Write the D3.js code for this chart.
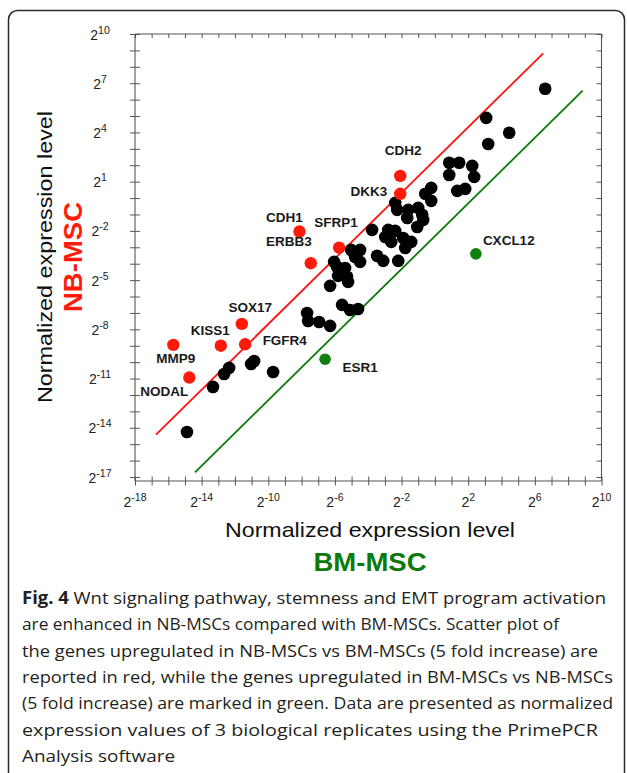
<!DOCTYPE html>
<html>
<head>
<meta charset="utf-8">
<script src="https://cdn.jsdelivr.net/npm/d3@7"></script>
<style>
body{margin:0;background:#fff;}
svg{display:block;}
</style>
</head>
<body>
<svg id="fig" width="627" height="773"></svg>
<script>
// values are log2 of the normalized expression level
// x = BM-MSC, y = NB-MSC
var otherX = [6.62, 3.08, 4.46, 3.2, 0.86, 1.46, 2.24, 0.86, 2.36, 1.34,
	1.82, -0.22, -0.58, -0.22, -2.38, -2.26, -1.6, -1.0, -0.76, -1.66,
	-0.7, -1.06, -3.77, -2.8, -2.38, -2.98, -1.9, -1.42, -2.62, -1.78,
	-5.03, -4.49, -4.79, -3.47, -2.2, -3.1, -6.05, -5.87, -5.39, -5.81,
	-5.27, -5.21, -6.29, -4.49, -5.57, -5.09, -4.61, -7.67, -7.61, -6.95,
	-6.29, -10.85, -11.03, -12.35, -12.65, -9.71, -13.32, -14.88];
var otherY = [6.66, 4.89, 3.98, 3.3, 2.15, 2.15, 1.96, 1.41, 1.29, 0.44,
	0.56, 0.62, 0.26, -0.17, -0.29, -0.72, -0.72, -0.6, -1.02, -1.21,
	-1.33, -1.76, -1.94, -1.94, -2.0, -2.37, -2.43, -2.67, -2.67, -3.04,
	-3.16, -3.16, -3.59, -3.52, -3.83, -3.83, -3.89, -4.2, -4.26, -4.74,
	-4.8, -5.11, -5.35, -3.89, -6.51, -6.82, -6.76, -7.0, -7.49, -7.55,
	-7.79, -9.93, -10.11, -10.35, -10.72, -10.6, -11.51, -14.26];

var upGenes = ["CDH2", "DKK3", "CDH1", "SFRP1", "ERBB3", "SOX17", "KISS1", "FGFR4", "MMP9", "NODAL"];
var upX = [-2.08, -2.08, -8.13, -5.75, -7.45, -11.59, -12.85, -11.39, -15.7, -14.74];
var upY = [1.35, 0.26, -2.04, -3.02, -3.97, -7.67, -9.0, -8.91, -8.95, -10.94];

var downGenes = ["CXCL12", "ESR1"];
var downX = [2.46, -6.59];
var downY = [-3.4, -9.82];

var foldChange = 5;
var upLineX = [-16.74, 6.5];
var downLineX = [-14.4, 8.87];

var xTickExp = d3.range(-18, 11);
var yTickExp = d3.range(-17, 11);
var xLabelExp = [-18, -14, -10, -6, -2, 2, 6, 10];
var yLabelExp = [10, 7, 4, 1, -2, -5, -8, -11, -14, -17];

var captionLines = [
	["Fig. 4", " Wnt signaling pathway, stemness and EMT program activation"],
	["", "are enhanced in NB-MSCs compared with BM-MSCs. Scatter plot of"],
	["", "the genes upregulated in NB-MSCs vs BM-MSCs (5 fold increase) are"],
	["", "reported in red, while the genes upregulated in BM-MSCs vs NB-MSCs"],
	["", "(5 fold increase) are marked in green. Data are presented as normalized"],
	["", "expression values of 3 biological replicates using the PrimePCR"],
	["", "Analysis software"]
];
// right end of each caption line (layout)
var captionEnds = [606, 559, 598, 613, 613, 598, 175];

// label placement relative to the dot: dx, dy, anchor
var labelPos = {
	CDH2: [3, -21, "middle"], DKK3: [-13, 2, "end"], CDH1: [-15, -10, "middle"],
	SFRP1: [-3, -21, "middle"], ERBB3: [-22, -17.5, "middle"], SOX17: [8.5, -11.5, "middle"],
	KISS1: [-10.5, -10.5, "middle"], FGFR4: [17.5, 1, "start"], MMP9: [2.5, 18.5, "middle"],
	NODAL: [-25, 18, "middle"], CXCL12: [7, -9, "start"], ESR1: [17.5, 13, "start"]
};

var svg = d3.select("#fig");
var p2 = function(e){ return Math.pow(2, e); };

var x = d3.scaleLog().base(2).domain([p2(-18), p2(10)]).range([135, 601.5]);
var y = d3.scaleLog().base(2).domain([p2(-17), p2(10)]).range([477, 34]);
var xAxisY = 481;

// frame
svg.append("rect")
	.attr("x", 8.5).attr("y", 10.5)
	.attr("width", 616).attr("height", 820)
	.attr("rx", 9).attr("ry", 9)
	.attr("fill", "none").attr("stroke", "#2a2a2a").attr("stroke-width", 1.5);

var axisColor = "#555";

// bottom axis
var gx = svg.append("g").attr("transform", "translate(0," + xAxisY + ")")
	.call(d3.axisBottom(x).tickValues(xTickExp.map(p2)).tickSize(4).tickFormat(""));
gx.select(".domain").attr("d", "M135,0H601.5");
gx.selectAll(".tick line").attr("y1", -4.5).attr("y2", 4.5);

// top axis
var gt = svg.append("g").attr("transform", "translate(0," + y(p2(10)) + ")")
	.call(d3.axisTop(x).tickValues(xTickExp.map(p2)).tickSize(-4).tickFormat(""));
gt.select(".domain").attr("d", "M135,0H601.5");

// left axis
var gy = svg.append("g").attr("transform", "translate(" + x(p2(-18)) + ",0)")
	.call(d3.axisLeft(y).tickValues(yTickExp.map(p2)).tickSize(5).tickFormat(""));
gy.select(".domain").attr("d", "M0,34V" + xAxisY);
gy.selectAll(".tick line").attr("x1", -5).attr("x2", 5);

// right axis
var gr = svg.append("g").attr("transform", "translate(" + x(p2(10)) + ",0)")
	.call(d3.axisRight(y).tickValues(yTickExp.map(p2)).tickSize(-5).tickFormat(""));
gr.select(".domain").attr("d", "M0,34V" + xAxisY);

svg.selectAll(".domain").attr("stroke", axisColor).attr("stroke-width", 1.1);
svg.selectAll(".tick line").attr("stroke", axisColor).attr("stroke-width", 1);

// tick labels 2^n
function powLabel(sel, e){
	sel.append("tspan").text("2");
	sel.append("tspan").attr("font-size", 10.5).attr("dy", -6).text(e);
}
svg.append("g").selectAll("text").data(xLabelExp).join("text")
	.attr("x", function(d){ return x(p2(d)); })
	.attr("y", 507)
	.attr("text-anchor", "middle")
	.attr("font-family", "Liberation Sans, Arial, sans-serif")
	.attr("font-size", 14).attr("fill", "#222")
	.each(function(d){ powLabel(d3.select(this), d); });

svg.append("g").selectAll("text").data(yLabelExp).join("text")
	.attr("x", 100)
	.attr("y", function(d){ return y(p2(d)) + 5.5; })
	.attr("text-anchor", "middle")
	.attr("font-family", "Liberation Sans, Arial, sans-serif")
	.attr("font-size", 14).attr("fill", "#222")
	.each(function(d){ powLabel(d3.select(this), d); });

// fold change lines
var fc = Math.log2(foldChange);
svg.append("line")
	.attr("x1", x(p2(upLineX[0]))).attr("y1", y(p2(upLineX[0] + fc)))
	.attr("x2", x(p2(upLineX[1]))).attr("y2", y(p2(upLineX[1] + fc)))
	.attr("stroke", "#ff1010").attr("stroke-width", 1.8);
svg.append("line")
	.attr("x1", x(p2(downLineX[0]))).attr("y1", y(p2(downLineX[0] - fc)))
	.attr("x2", x(p2(downLineX[1]))).attr("y2", y(p2(downLineX[1] - fc)))
	.attr("stroke", "#0a7a0a").attr("stroke-width", 1.8);

// dots
svg.append("g").selectAll("circle").data(otherX).join("circle")
	.attr("cx", function(d){ return x(p2(d)); })
	.attr("cy", function(d, i){ return y(p2(otherY[i])); })
	.attr("r", 6.3).attr("fill", "#000");

svg.append("g").selectAll("circle").data(upGenes).join("circle")
	.attr("cx", function(d, i){ return x(p2(upX[i])); })
	.attr("cy", function(d, i){ return y(p2(upY[i])); })
	.attr("r", 6.2).attr("fill", "#ff1a0a");

svg.append("g").selectAll("circle").data(downGenes).join("circle")
	.attr("cx", function(d, i){ return x(p2(downX[i])); })
	.attr("cy", function(d, i){ return y(p2(downY[i])); })
	.attr("r", 5.8).attr("fill", "#118011");

// gene labels
var labelled = upGenes.map(function(g, i){ return {g: g, x: upX[i], y: upY[i]}; })
	.concat(downGenes.map(function(g, i){ return {g: g, x: downX[i], y: downY[i]}; }));
svg.append("g").selectAll("text").data(labelled).join("text")
	.attr("x", function(d){ return x(p2(d.x)) + labelPos[d.g][0]; })
	.attr("y", function(d){ return y(p2(d.y)) + labelPos[d.g][1]; })
	.attr("text-anchor", function(d){ return labelPos[d.g][2]; })
	.attr("font-family", "Liberation Sans, Arial, sans-serif")
	.attr("font-weight", "bold").attr("font-size", 13.5).attr("fill", "#1a1a1a")
	.text(function(d){ return d.g; });

// axis titles
svg.append("text")
	.attr("x", 370).attr("y", 537)
	.attr("text-anchor", "middle")
	.attr("font-family", "Liberation Sans, Arial, sans-serif")
	.attr("font-size", 21).attr("fill", "#111")
	.attr("textLength", 290).attr("lengthAdjust", "spacingAndGlyphs")
	.text("Normalized expression level");
svg.append("text")
	.attr("x", 370).attr("y", 571)
	.attr("text-anchor", "middle")
	.attr("font-family", "Liberation Sans, Arial, sans-serif")
	.attr("font-size", 26).attr("font-weight", "bold").attr("fill", "#0b7a0b")
	.attr("textLength", 113).attr("lengthAdjust", "spacingAndGlyphs")
	.text("BM-MSC");

svg.append("text")
	.attr("transform", "translate(51.5,257) rotate(-90)")
	.attr("text-anchor", "middle")
	.attr("font-family", "Liberation Sans, Arial, sans-serif")
	.attr("font-size", 21).attr("fill", "#111")
	.attr("textLength", 292).attr("lengthAdjust", "spacingAndGlyphs")
	.text("Normalized expression level");
svg.append("text")
	.attr("transform", "translate(82,257) rotate(-90)")
	.attr("text-anchor", "middle")
	.attr("font-family", "Liberation Sans, Arial, sans-serif")
	.attr("font-size", 26).attr("font-weight", "bold").attr("fill", "#ff1a0a")
	.attr("textLength", 110).attr("lengthAdjust", "spacingAndGlyphs")
	.text("NB-MSC");

// caption
var cap = svg.append("g")
	.attr("font-family", "Open Sans, Noto Sans, sans-serif")
	.attr("font-size", 17).attr("fill", "#231f20");
captionLines.forEach(function(line, i){
	var t = cap.append("text")
		.attr("x", 22).attr("y", 604 + i * 26.3)
		.attr("textLength", captionEnds[i] - 22)
		.attr("lengthAdjust", "spacingAndGlyphs");
	if(line[0]) t.append("tspan").attr("font-weight", "bold").text(line[0]);
	t.append("tspan").text(line[1]);
});
</script>
</body>
</html>
